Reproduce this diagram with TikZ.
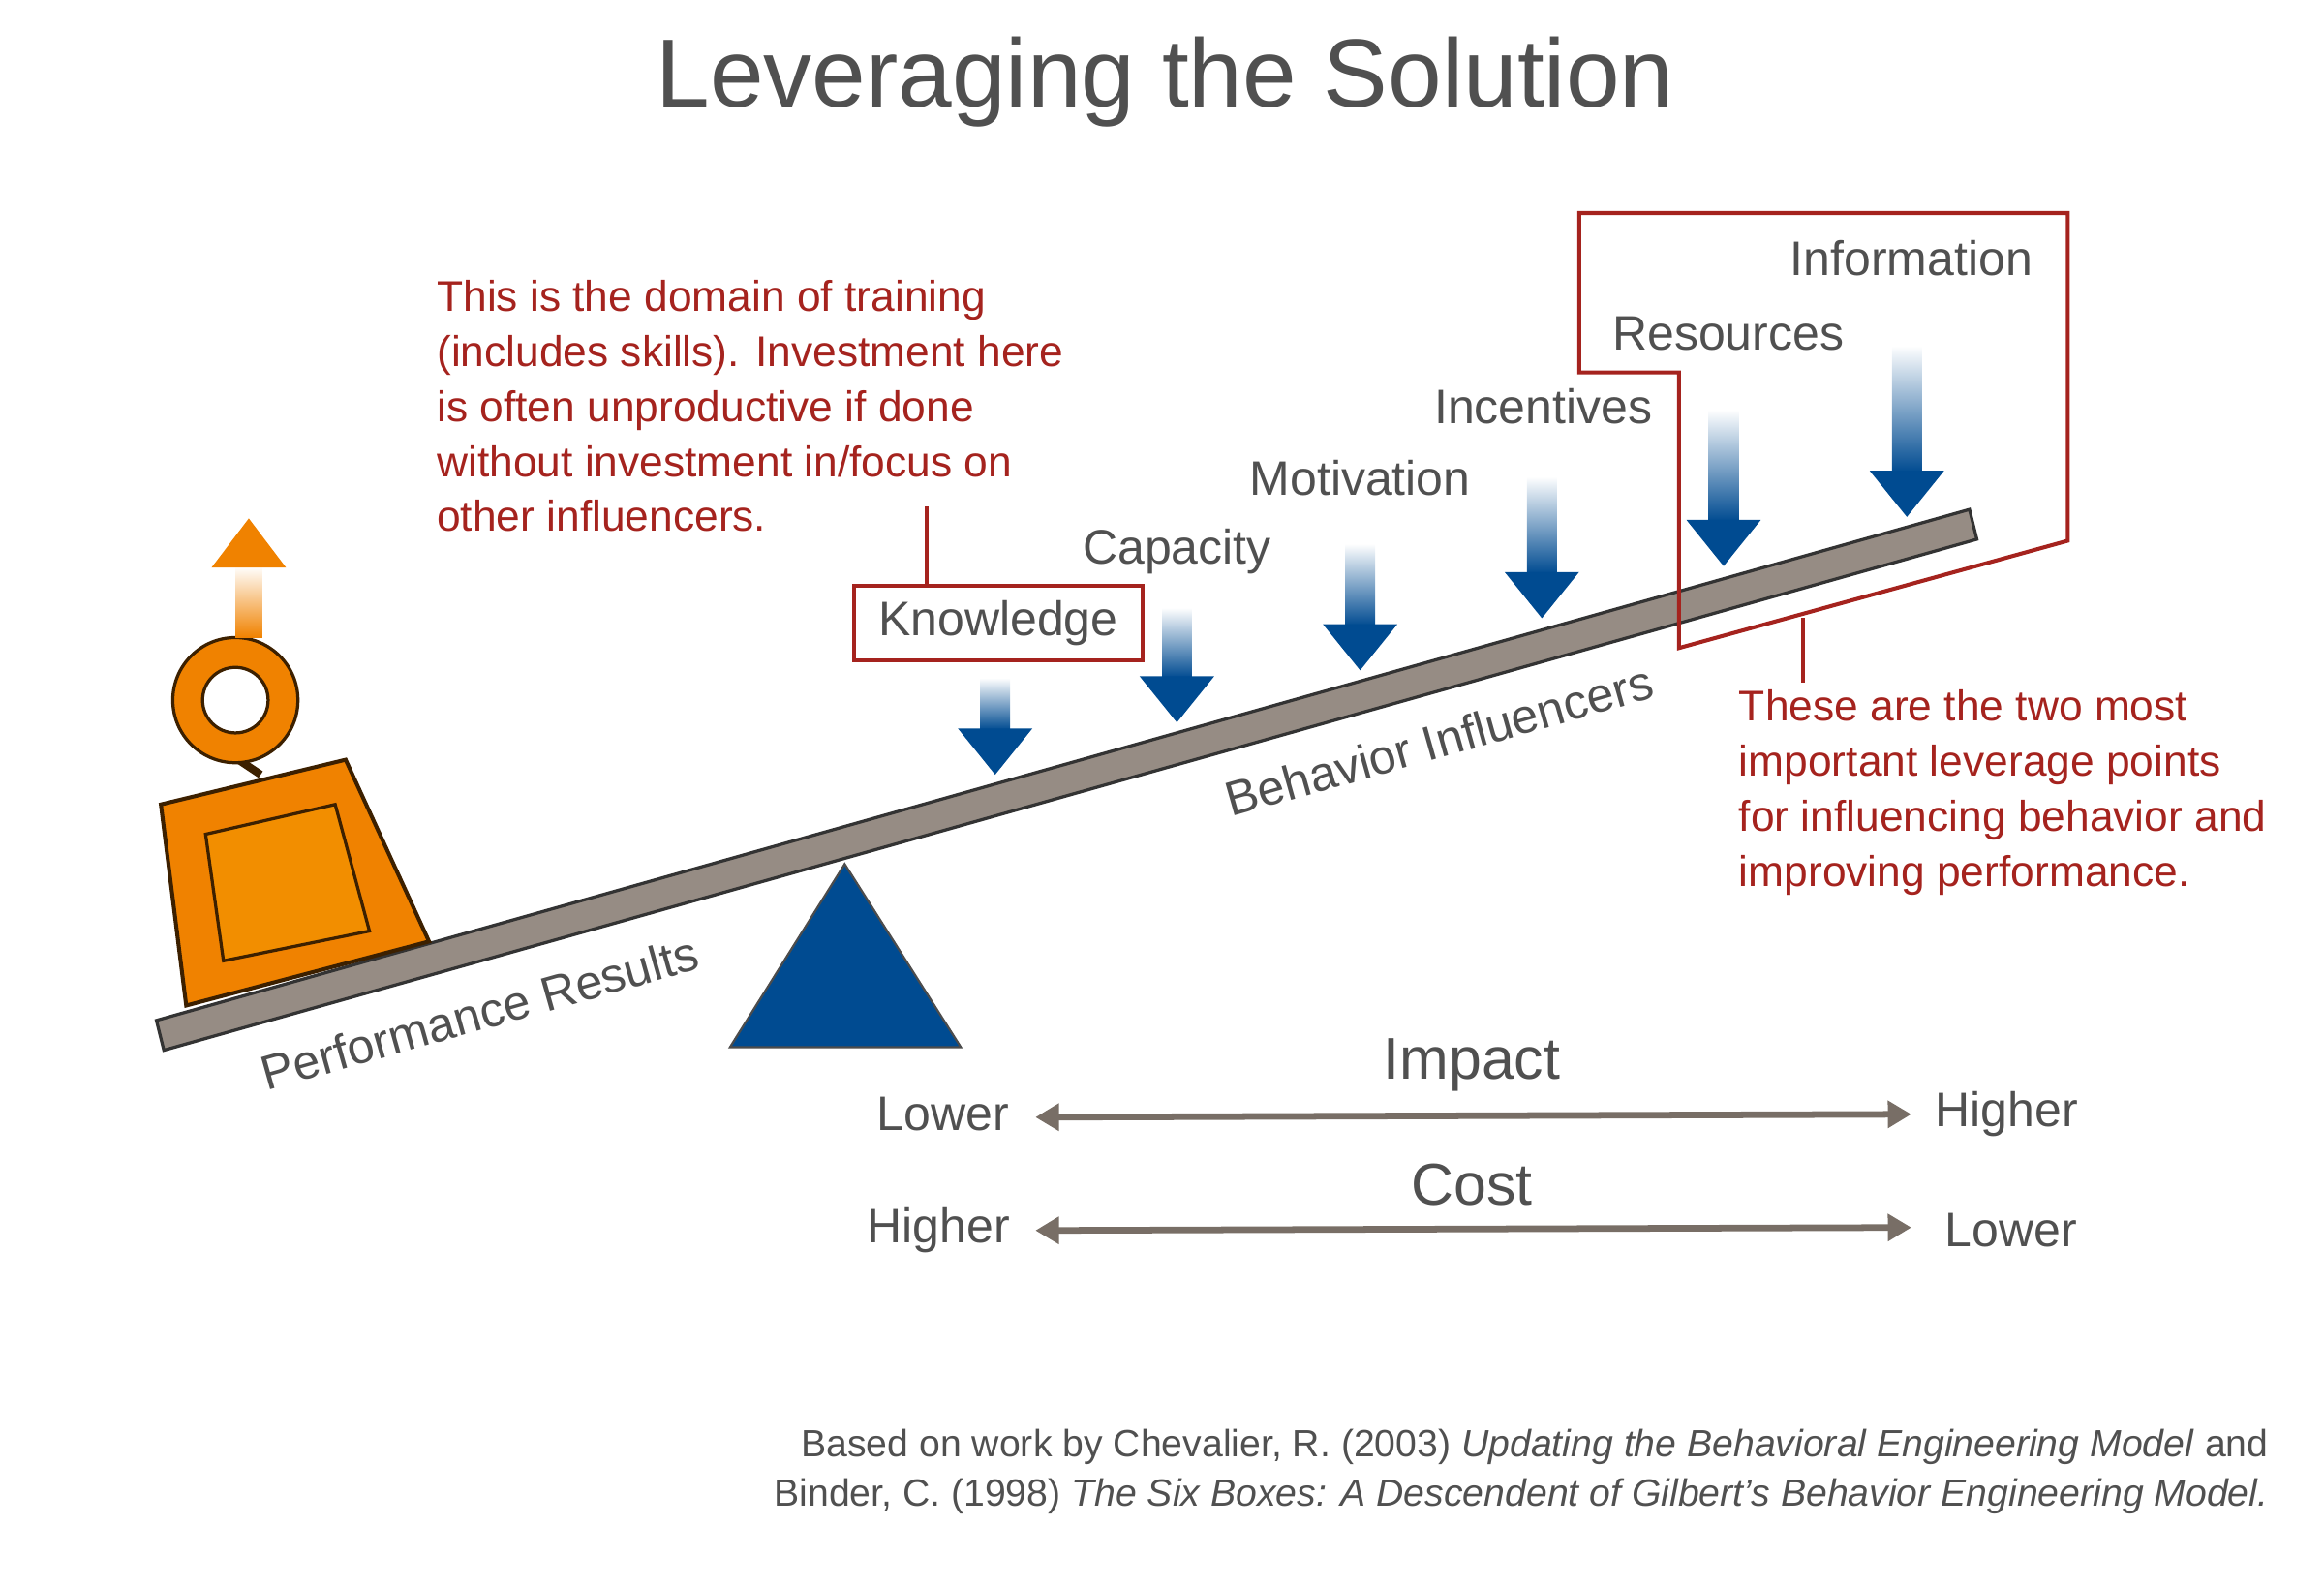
\documentclass[tikz,border=0pt]{standalone}
\usepackage{fontspec}
\setmainfont{Liberation Sans}
\usetikzlibrary{arrows.meta}
\definecolor{txt}{RGB}{80,80,80}
\definecolor{red}{RGB}{165,35,30}
\definecolor{blu}{RGB}{0,75,145}
\definecolor{org}{RGB}{240,130,0}
\definecolor{beam}{RGB}{150,140,132}
\definecolor{axc}{RGB}{120,110,102}
\tikzset{
 lbl/.style={text=txt,font=\fontsize{18.5}{22}\selectfont,inner sep=0pt},
 rtxt/.style={text=red,font=\fontsize{16.4}{21}\selectfont,align=left,inner sep=0pt,anchor=north west},
 axis/.style={draw=axc,line width=2.5pt,{Triangle[length=9pt,width=10pt]}-{Triangle[length=9pt,width=10pt]}}
}
\newcommand{\barrow}[3]{% x, top, tip
 \shade[top color=white,bottom color=blu] (#1-10,#2) rectangle (#1+10,#3-30);
 \fill[blu] (#1-10,#3-31) -- (#1-25,#3-31) -- (#1,#3) -- (#1+25,#3-31) -- (#1+10,#3-31) -- cycle;}
\begin{document}
\begin{tikzpicture}[x=0.02cm,y=-0.02cm]
\useasboundingbox (0,0) rectangle (1560,1065);
\node[text=txt,font=\fontsize{37}{44}\selectfont] (title) at (782,55) {Leveraging the Solution};
% beam
\draw[fill=beam,draw=black!80,line width=1.2pt] (105,685) -- (1322,342) -- (1327,362) -- (110,705) -- cycle;
\fill[blu] (490,703) -- (567,580) -- (645,703) -- cycle;
\draw[black!70,line width=0.8pt] (490,703) -- (567,580) -- (645,703) -- cycle;
% weight
\draw[fill=org,draw=black!75!org,line width=1.5pt] (108,540) -- (232,510) -- (288,632) -- (125,675) -- cycle;
\draw[fill=org!90!yellow,draw=black!75!org,line width=1.2pt] (138,560) -- (225,540) -- (248,625) -- (150,645) -- cycle;
\draw[draw=black!75!org,line width=3pt] (160,510) -- (175,520);
\draw[even odd rule,fill=org,draw=black!75!org,line width=1.2pt] (158,470) circle (42) (158,470) circle (22);
\shade[top color=white,bottom color=org] (158,428) rectangle (176,380);
\fill[org] (142,381) -- (167,348) -- (192,381) -- cycle;
% arrows
\barrow{668}{455}{520}
\barrow{790}{408}{485}
\barrow{913}{365}{450}
\barrow{1035}{320}{415}
\barrow{1157}{275}{380}
\barrow{1280}{232}{347}
% labels
\node[lbl] (inf) at (1283,173) {Information};
\node[lbl] (res) at (1160,224) {Resources};
\node[lbl] (inc) at (1036,273) {Incentives};
\node[lbl] (mot) at (913,321) {Motivation};
\node[lbl] (cap) at (790,370) {Capacity};
\node[draw=red,line width=1.5pt,text=txt,font=\fontsize{18.5}{22}\selectfont,minimum width=194*0.02cm,minimum height=50*0.02cm,inner sep=0pt] (kn) at (670,418) {Knowledge};
\draw[red,line width=1.5pt] (kn.north -| 622,0) -- (622,340);
\draw[red,line width=1.5pt] (1060,143) -- (1388,143) -- (1388,363) -- (1127,435) -- (1127,250) -- (1060,250) -- cycle;
\draw[red,line width=1.5pt] (1210,415) -- (1210,458);
\node[rtxt] (t1) at (293,188) {This is the domain of training\\(includes skills). Investment here\\is often unproductive if done\\without investment in/focus on\\other influencers.};
\node[rtxt] (t2) at (1167,463) {These are the two most\\important leverage points\\for influencing behavior and\\improving performance.};
\node[lbl,rotate=15.8] (bi) at (966,497) {Behavior Influencers};
\node[lbl,rotate=15.8] (pr) at (322,680) {Performance Results};
% axes
\node[lbl,font=\fontsize{22.5}{26}\selectfont] (imp) at (988,715) {Impact};
\node[lbl] (l1) at (633,748) {Lower};
\node[lbl] (h1) at (1347,748) {Higher};
\draw[axis] (695,750) -- (1283,748);
\node[lbl,font=\fontsize{22.5}{26}\selectfont] (cost) at (988,795) {Cost};
\node[lbl] (h2) at (630,826) {Higher};
\node[lbl] (l2) at (1350,826) {Lower};
\draw[axis] (695,826) -- (1283,824);
\node[text=txt,font=\fontsize{14.5}{19}\selectfont,align=right,anchor=north east,inner sep=0pt] (cite) at (1523,959) {Based on work by Chevalier, R. (2003) \textit{Updating the Behavioral Engineering Model} and\\Binder, C. (1998) \textit{The Six Boxes: A Descendent of Gilbert’s Behavior Engineering Model.}};
\end{tikzpicture}
\end{document}
